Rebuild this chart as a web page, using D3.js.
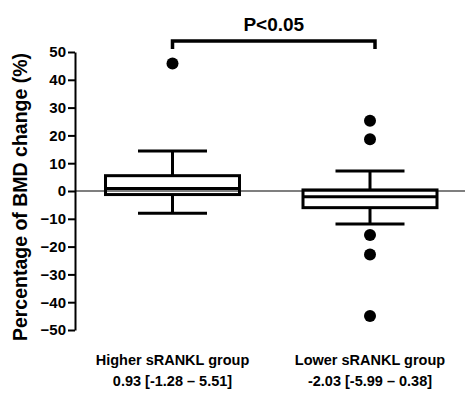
<!DOCTYPE html>
<html><head><meta charset="utf-8">
<script src="https://cdn.jsdelivr.net/npm/d3@7"></script>
<style>body{margin:0;background:#fff}svg{display:block}</style>
</head><body>
<script>
const groups = ["Higher sRANKL group", "Lower sRANKL group"];
const summaries = ["0.93 [-1.28 \u2013 5.51]", "-2.03 [-5.99 \u2013 0.38]"];
const medians = [0.93, -2.03];
const q1s = [-1.28, -5.99];
const q3s = [5.51, 0.38];
const whiskerLow = [-8.0, -11.9];
const whiskerHigh = [14.4, 7.2];
const outliers = [[45.9], [25.3, 18.6, -15.8, -22.8, -45.0]];
const yTicks = [50, 40, 30, 20, 10, 0, -10, -20, -30, -40, -50];
const sigLabel = "P<0.05";
const yTitle = "Percentage of BMD change (%)";

const W = 466, H = 393;
const svg = d3.select("body").append("svg").attr("width", W).attr("height", H);
const y = d3.scaleLinear().domain([-50, 50]).range([330, 52]);
const x = d3.scalePoint().domain(groups).range([172.5, 370]);
const axisX = 75;
const boxW = 134, capW = 69;
const font = "Liberation Sans, Arial, sans-serif";

// zero line
svg.append("line").attr("x1", axisX).attr("x2", 465).attr("y1", y(0)).attr("y2", y(0))
  .attr("stroke", "#000").attr("stroke-width", 1.2);

// y axis
const ax = svg.append("g").attr("transform", `translate(${axisX},0)`)
  .call(d3.axisLeft(y).tickValues(yTicks).tickSize(7).tickPadding(2).tickSizeOuter(0));
ax.select(".domain").attr("stroke-width", 2);
ax.selectAll(".tick line").attr("stroke-width", 2);
ax.selectAll(".tick text").attr("font-family", font).attr("font-size", 15).attr("font-weight", "bold").attr("fill", "#000");

svg.append("text").attr("transform", `translate(27,${y(0) + 6}) rotate(-90)`)
  .attr("text-anchor", "middle").attr("font-family", font).attr("font-size", 19.5)
  .attr("font-weight", "bold").text(yTitle);

groups.forEach((g, i) => {
  const cx = x(g);
  const gg = svg.append("g").attr("stroke", "#000").attr("stroke-width", 3).attr("fill", "none");
  // whiskers
  gg.append("line").attr("x1", cx).attr("x2", cx).attr("y1", y(whiskerHigh[i])).attr("y2", y(q3s[i]));
  gg.append("line").attr("x1", cx).attr("x2", cx).attr("y1", y(q1s[i])).attr("y2", y(whiskerLow[i]));
  gg.append("line").attr("x1", cx - capW / 2).attr("x2", cx + capW / 2).attr("y1", y(whiskerHigh[i])).attr("y2", y(whiskerHigh[i]));
  gg.append("line").attr("x1", cx - capW / 2).attr("x2", cx + capW / 2).attr("y1", y(whiskerLow[i])).attr("y2", y(whiskerLow[i]));
  // box
  gg.append("rect").attr("x", cx - boxW / 2).attr("width", boxW)
    .attr("y", y(q3s[i])).attr("height", y(q1s[i]) - y(q3s[i]));
  gg.append("line").attr("x1", cx - boxW / 2).attr("x2", cx + boxW / 2).attr("y1", y(medians[i])).attr("y2", y(medians[i]));
  // outliers
  svg.selectAll(null).data(outliers[i]).enter().append("circle")
    .attr("cx", cx).attr("cy", d => y(d)).attr("r", 6).attr("fill", "#000");
  // labels
  svg.append("text").attr("x", cx).attr("y", 365).attr("text-anchor", "middle")
    .attr("font-family", font).attr("font-size", 14.5).attr("font-weight", "bold").text(g);
  svg.append("text").attr("x", cx).attr("y", 386).attr("text-anchor", "middle")
    .attr("font-family", font).attr("font-size", 14.5).attr("font-weight", "bold").text(summaries[i]);
});

// significance bracket
const bx1 = x(groups[0]), bx2 = x(groups[1]) + 5, by = 41;
svg.append("path").attr("d", `M${bx1},49V${by}H${bx2}V49`).attr("fill", "none")
  .attr("stroke", "#000").attr("stroke-width", 3.5);
svg.append("text").attr("x", (bx1 + bx2) / 2).attr("y", 31).attr("text-anchor", "middle")
  .attr("font-family", font).attr("font-size", 19).attr("font-weight", "bold").text(sigLabel);
</script>
</body></html>
